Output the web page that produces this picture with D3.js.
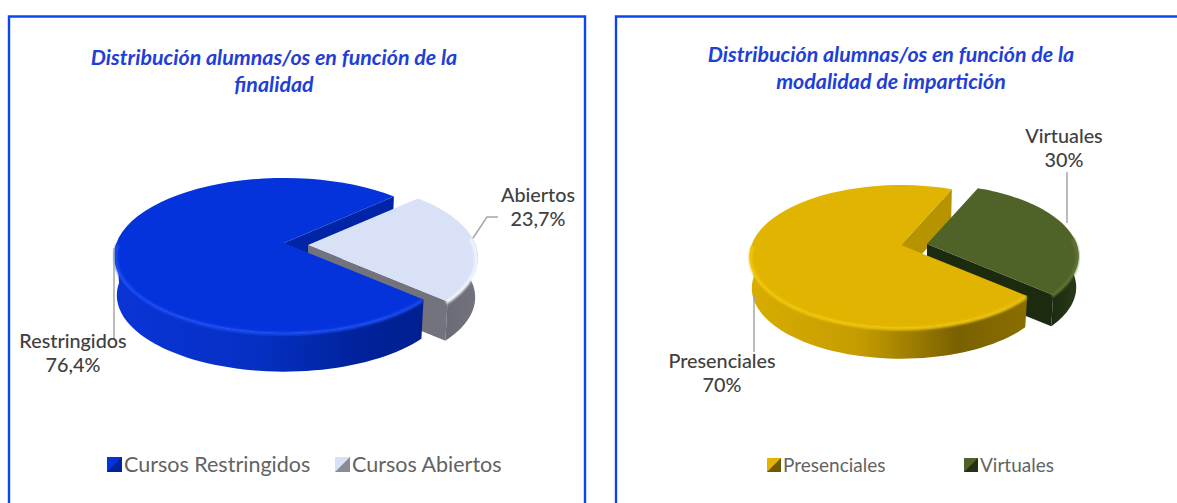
<!DOCTYPE html>
<html>
<head>
<meta charset="utf-8">
<script src="https://cdn.jsdelivr.net/npm/d3@7"></script>
<style>
  html, body { margin: 0; padding: 0; background: #fff; }
  svg { display: block; }
  text { font-family: Lato, "Open Sans", sans-serif; }
</style>
</head>
<body>
<svg id="chart" width="1177" height="503"></svg>
<script>
// Datos
const finalidadNames = ['Restringidos', 'Abiertos'];
const finalidadValues = [76.4, 23.7];
const finalidadPct = ['76,4%', '23,7%'];
const finalidadLegend = ['Cursos Restringidos', 'Cursos Abiertos'];
const finalidadTitle = ['Distribución alumnas/os en función de la', 'finalidad'];

const modalidadNames = ['Presenciales', 'Virtuales'];
const modalidadValues = [70, 30];
const modalidadPct = ['70%', '30%'];
const modalidadLegend = ['Presenciales', 'Virtuales'];
const modalidadTitle = ['Distribución alumnas/os en función de la', 'modalidad de impartición'];

const svg = d3.select('#chart');
const defs = svg.append('defs');
defs.append('filter').attr('id', 'soft').append('feGaussianBlur').attr('stdDeviation', 1.1);

function hGradient(id, stops) {
  const g = defs.append('linearGradient').attr('id', id)
    .attr('x1', 0).attr('x2', 1).attr('y1', 0).attr('y2', 0);
  stops.forEach(s => g.append('stop').attr('offset', s[0]).attr('stop-color', s[1]));
  return `url(#${id})`;
}

function drawPanel(x, w, titleLines, titleX, titleY) {
  svg.append('path')
    .attr('d', `M${x},503V16.5H${x + w}${x + w < 1177 ? 'V503' : ''}`)
    .attr('fill', 'none').attr('stroke', '#0d45ee').attr('stroke-width', 2.4);
  svg.append('text').attr('text-anchor', 'middle')
    .attr('fill', '#1f40d6').attr('font-size', 21.4)
    .attr('font-weight', 700).attr('font-style', 'italic')
    .selectAll('tspan').data(titleLines).join('tspan')
    .attr('x', titleX).attr('y', (d, i) => titleY + i * 27)
    .text(d => d);
}

// Pie with perspective: p pushes the apex above the centre of the visible ellipse
function drawPie(o) {
  const project = (theta, r, drop) => {
    const u = Math.sin(theta) * r, v = -Math.cos(theta) * r;
    const s = 1 / (1 - o.p * v);
    // bottom ring is further from the eye, so a bit narrower
    const narrow = drop ? 0.985 : 1;
    return [o.cx + o.R * u * s * narrow, o.cy + o.Q * v * s * narrow + drop];
  };
  const arcs = d3.pie().sort(null).startAngle(o.rotation).endAngle(o.rotation + 2 * Math.PI)(o.values);
  const line = d3.line();
  const sweep = (a, b) => d3.range(0, 61).map(i => a + (b - a) * i / 60);

  const cutFace = (arc, i, off) => {
    const g = svg.append('g').attr('transform', `translate(${off[0]},${off[1]})`);
    const e = project(arc.endAngle, 1, 0), f = project(arc.endAngle, 1, o.depth), apex = [o.cx, o.cy];
    g.append('path').attr('fill', o.colors[i].cut)
      .attr('d', line([apex, e, f, [apex[0], apex[1] + o.depth]]) + 'Z');
  };

  const body = (arc, i, off) => {
    const g = svg.append('g').attr('transform', `translate(${off[0]},${off[1]})`);
    const c = o.colors[i];
    // the last slice runs past a full turn, bring it back for the wall test
    const wrap = arc.startAngle >= 2 * Math.PI ? 2 * Math.PI : 0;
    const a = arc.startAngle - wrap, b = arc.endAngle - wrap;
    const rim = sweep(a, b).map(t => project(t, 1, 0));

    // Outer wall, only the side facing the viewer
    const lo = Math.max(a, Math.PI / 2 - 0.1), hi = Math.min(b, 1.5 * Math.PI);
    const top = sweep(lo, hi).map(t => project(t, 1, 0));
    const bottom = sweep(lo, hi).map(t => project(t, 1, o.depth)).reverse();
    g.append('path').attr('fill', c.wall).attr('d', line(top.concat(bottom)) + 'Z');

    // Top face
    g.append('path').attr('fill', c.top).attr('d', line([[o.cx, o.cy]].concat(rim)) + 'Z');

    // Bevel along the front edge
    g.append('path').attr('fill', 'none').attr('stroke', c.bevel)
      .attr('stroke-width', 3.2).attr('filter', 'url(#soft)')
      .attr('d', line(sweep(lo, hi).map(t => project(t, 0.992, 0)).map(q => [q[0], q[1] + 1.5])));
  };

  // Big slice's cut face sits behind the detached slice, its top and wall in front
  cutFace(arcs[0], 0, [0, 0]);
  cutFace(arcs[1], 1, o.explode);
  body(arcs[1], 1, o.explode);
  body(arcs[0], 0, [0, 0]);

  // Leader lines
  o.leaders.forEach(pts => {
    svg.append('path').attr('fill', 'none').attr('stroke', '#a6a6a6')
      .attr('stroke-width', 1.5).attr('d', line(pts));
  });

  // Data labels
  o.names.forEach((name, i) => {
    const t = svg.append('text').attr('text-anchor', 'middle')
      .attr('fill', '#404040').attr('font-size', o.labelSize).attr('font-weight', 500);
    t.append('tspan').attr('x', o.labelPos[i][0]).attr('y', o.labelPos[i][1]).text(name);
    t.append('tspan').attr('x', o.labelPos[i][0]).attr('y', o.labelPos[i][1] + 24).text(o.pct[i]);
  });

  // Legend
  o.legend.forEach((name, i) => {
    const x = o.legendX[i], y = o.legendY, c = o.colors[i], s = o.swatch;
    svg.append('rect').attr('x', x).attr('y', y).attr('width', s).attr('height', s).attr('fill', c.top);
    svg.append('path').attr('fill', c.swatchDark)
      .attr('d', line([[x + s, y], [x + s, y + s], [x, y + s], [x + s * 0.5, y + s * 0.5]]) + 'Z');
    svg.append('text').attr('x', x + s + 2).attr('y', y + s)
      .attr('fill', '#636363').attr('font-size', o.legendSize).text(name);
  });
}

drawPanel(9, 576, finalidadTitle, 274, 65);
drawPanel(616, 600, modalidadTitle, 891, 62);

drawPie({
  values: finalidadValues, names: finalidadNames, pct: finalidadPct, legend: finalidadLegend,
  cx: 284, cy: 243, R: 167.5, Q: 75.5, p: 0.161, depth: 40,
  rotation: 132 * Math.PI / 180, explode: [24, 2],
  colors: [
    { top: '#0433dc', cut: '#0024a6', bevel: '#1d4cf0', swatchDark: '#02229a',
      wall: hGradient('wallA0', [[0, '#0a34d6'], [0.45, '#0630c4'], [0.8, '#00229a'], [1, '#001f90']]) },
    { top: '#d9e1f7', cut: '#72737c', bevel: '#f4f6fc', swatchDark: '#8a8b94',
      wall: hGradient('wallA1', [[0, '#6a6b74'], [1, '#72737c']]) }
  ],
  leaders: [
    [[114, 248], [114, 340]],
    [[473, 238], [487, 217], [498, 217]]
  ],
  labelSize: 19.8, labelPos: [[73, 348], [538, 202]],
  legendX: [107, 335], legendY: 457, swatch: 15, legendSize: 21.5
});

drawPie({
  values: modalidadValues, names: modalidadNames, pct: modalidadPct, legend: modalidadLegend,
  cx: 901, cy: 245, R: 149.5, Q: 69.6, p: 0.161, depth: 32,
  rotation: 131 * Math.PI / 180, explode: [26, -1],
  colors: [
    { top: '#e0b400', cut: '#b89300', bevel: '#f0c710', swatchDark: '#6f5800',
      wall: hGradient('wallB0', [[0, '#d8ad00'], [0.4, '#c49c00'], [0.75, '#7a6100'], [1, '#8a6e00']]) },
    { top: '#4f6228', cut: '#1c2a10', bevel: '#5f7433', swatchDark: '#242f14',
      wall: hGradient('wallB1', [[0, '#1c2a10'], [1, '#2a3a18']]) }
  ],
  leaders: [
    [[754, 295], [754, 352]],
    [[1067, 172], [1067, 223]]
  ],
  labelSize: 19.8, labelPos: [[722, 368], [1064, 143]],
  legendX: [767, 964], legendY: 458, swatch: 14, legendSize: 19
});
</script>
</body>
</html>
